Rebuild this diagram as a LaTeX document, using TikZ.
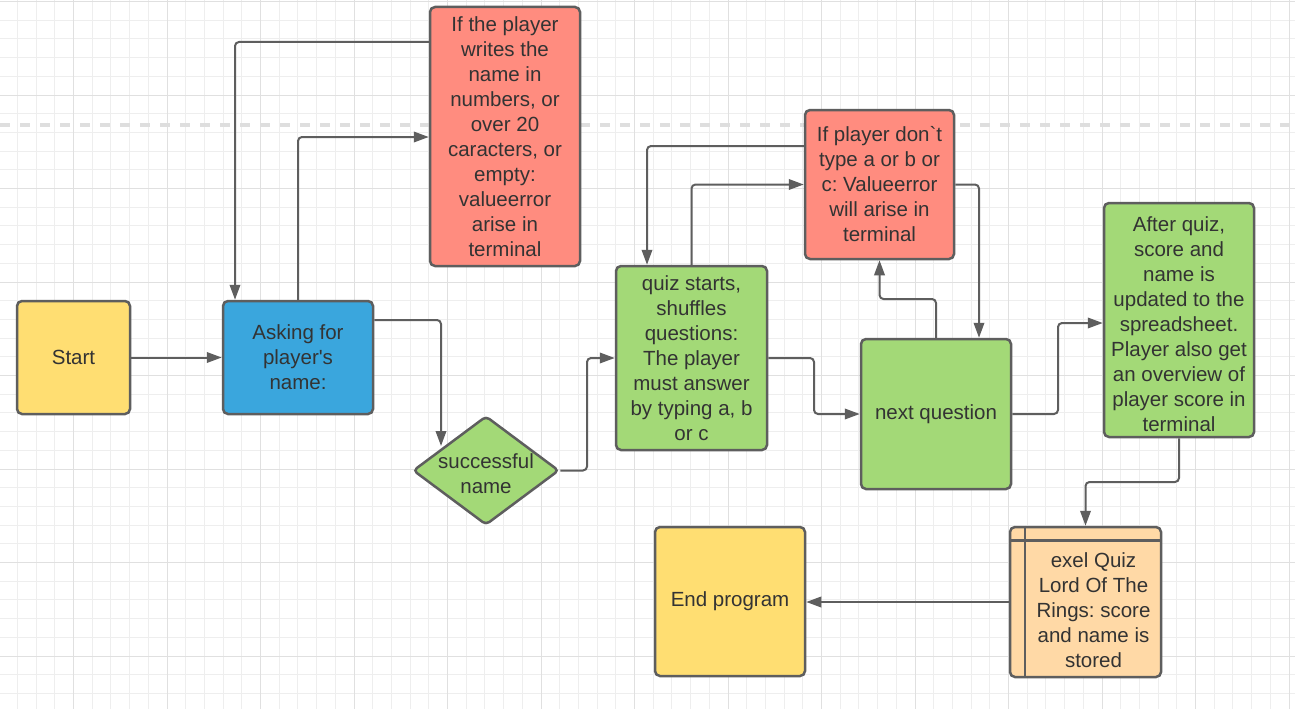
\documentclass[tikz,border=0pt]{standalone}
\usepackage{fontspec}
\setmainfont{Liberation Sans}
\usetikzlibrary{arrows.meta,shapes.geometric,calc}
\definecolor{cyel}{HTML}{FFDE72}
\definecolor{cblue}{HTML}{3AA6DD}
\definecolor{cred}{HTML}{FF8C7F}
\definecolor{cgreen}{HTML}{A3D977}
\definecolor{corange}{HTML}{FFD9A6}
\definecolor{bordc}{HTML}{5E5E5E}
\definecolor{linec}{HTML}{5E5E5E}
\definecolor{txtc}{HTML}{333333}
\definecolor{gminorc}{HTML}{EEEEEE}
\definecolor{gmajorc}{HTML}{E0E0E0}
\definecolor{dashc}{HTML}{DEDEDE}
\newcommand\myfs{\fontsize{20.5}{25}\selectfont\frenchspacing}
\tikzset{
  box/.style={draw=bordc, line width=2.5pt, rounded corners=5pt, align=center,
              inner sep=0pt, font=\myfs, text=txtc, rectangle},
  conn/.style={draw=linec, line width=2pt, rounded corners=4pt,
               -{Triangle[length=15pt,width=10.5pt]}},
  gminor/.style={draw=gminorc, line width=1pt},
  gmajor/.style={draw=gmajorc, line width=1pt},
}
\begin{document}
\begin{tikzpicture}[x=1pt,y=-1pt]
\useasboundingbox (0,0) rectangle (1295,709);
\fill[white] (0,0) rectangle (1295,709);
\begin{scope}
\clip (0,0) rectangle (1295,709);
\foreach \i in {-4,...,66} \draw[gminor] ({73.5+18.7*\i},0) -- ({73.5+18.7*\i},709);
\foreach \i in {0,...,38} \draw[gminor] (0,{1.5+18.7*\i}) -- (1295,{1.5+18.7*\i});
\foreach \i in {-1,...,13} \draw[gmajor] ({73.5+93.5*\i},0) -- ({73.5+93.5*\i},709);
\foreach \i in {0,...,7} \draw[gmajor] (0,{1.5+93.5*\i}) -- (1295,{1.5+93.5*\i});
\draw[dashc, line width=3.5pt, dash pattern=on 10pt off 10pt] (0,125) -- (1295,125);
\end{scope}

% nodes
\node[box, fill=cyel, minimum width=113pt, minimum height=113pt] (start) at (73.5,357.5) {Start};
\node[box, fill=cblue, minimum width=150pt, minimum height=113pt] (ask) at (298,357.5) {Asking for\\player\textquotesingle s\\name:};
\node[box, fill=cred, minimum width=150pt, minimum height=259pt] (err1) at (505,136.5)
  {If the player\\writes the\\name in\\numbers, or\\over 20\\caracters, or\\empty:\\valueerror\\arise in\\terminal};
\node[draw=bordc, line width=2.5pt, fill=cgreen, diamond, rounded corners=4pt, inner sep=0pt,
      minimum width=146pt, minimum height=109pt,
      label={[yshift=-3pt, font=\myfs, text=txtc, align=center]center:successful\\name}] (diam) at (486,470.5) {};
\node[box, fill=cgreen, minimum width=151pt, minimum height=184pt] (quiz) at (691.5,358)
  {quiz starts,\\shuffles\\questions:\\The player\\must answer\\by typing a, b\\or c};
\node[box, fill=cred, minimum width=149pt, minimum height=149pt] (err2) at (879.5,184.5)
  {If player don\textasciigrave t\\type a or b or\\c: Valueerror\\will arise in\\terminal};
\node[box, fill=cgreen, minimum width=150pt, minimum height=150pt] (nextq) at (936,414) {next question};
\node[box, fill=cgreen, minimum width=150pt, minimum height=234pt,
      label={[yshift=-4pt, font=\myfs, text=txtc, align=center]center:After quiz,\\score and\\name is\\updated to the\\spreadsheet.\\Player also get\\an overview of\\player score in\\terminal}] (after) at (1179,320) {};
\node[box, fill=cyel, minimum width=150pt, minimum height=149pt] (endp) at (730,601.5) {End program};
\node[box, fill=corange, minimum width=151pt, minimum height=150pt,
      label={[xshift=8pt, yshift=-8pt, font=\myfs, text=txtc, align=center]center:exel Quiz\\Lord Of The\\Rings: score\\and name is\\stored}] (exel) at (1085.5,602) {};
\draw[bordc, line width=2.5pt] ([xshift=16pt]exel.north west) -- ([xshift=16pt]exel.south west);
\draw[bordc, line width=2.5pt] ([yshift=-14.5pt]exel.north west) -- ([yshift=-14.5pt]exel.north east);

\coordinate (dtop) at (441,446);

% connectors
\draw[conn] (start.east) -- (ask.west);
\draw[conn] (err1.west |- 0,42) -| (ask.north -| 235,0);
\draw[conn] (ask.north) |- (err1.west |- 0,137);
\draw[conn] (ask.east |- 0,320) -| (dtop);
\draw[conn] (diam.east) -- (diam.east -| 587,0) |- (quiz.west);
\draw[conn] (quiz.east) -- (quiz.east -| 814,0) |- (nextq.west);
\draw[conn] (quiz.north) |- (err2.west);
\draw[conn] (err2.west |- 0,146) -| (quiz.north -| 647,0);
\draw[conn] (err2.east) -| (nextq.north -| 979,0);
\draw[conn] (nextq.north) -- (nextq.north |- 0,299) -| (err2.south);
\draw[conn] (nextq.east) -- (nextq.east -| 1058,0) |- (after.west |- 0,323);
\draw[conn] (after.south) -- (after.south |- 0,482) -| (exel.north);
\draw[conn] (exel.west) -- (exel.west -| endp.east);
\end{tikzpicture}
\end{document}
